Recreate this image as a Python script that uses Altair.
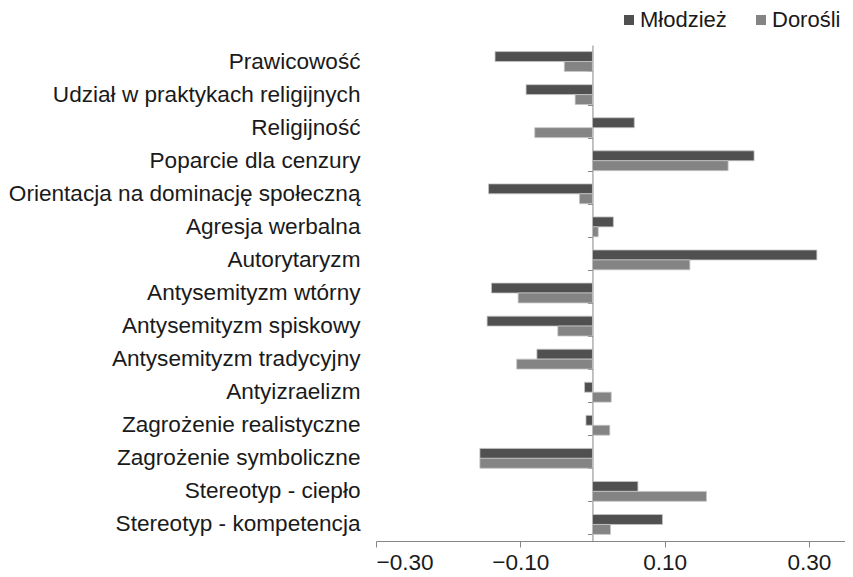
import altair as alt
import pandas as pd

categories = [
    "Prawicowość",
    "Udział w praktykach religijnych",
    "Religijność",
    "Poparcie dla cenzury",
    "Orientacja na dominację społeczną",
    "Agresja werbalna",
    "Autorytaryzm",
    "Antysemityzm wtórny",
    "Antysemityzm spiskowy",
    "Antysemityzm tradycyjny",
    "Antyizraelizm",
    "Zagrożenie realistyczne",
    "Zagrożenie symboliczne",
    "Stereotyp - ciepło",
    "Stereotyp - kompetencja",
]
series = ["Młodzież", "Dorośli"]
mlodziez = [-0.135, -0.092, 0.058, 0.224, -0.144, 0.029, 0.311, -0.140,
            -0.146, -0.077, -0.011, -0.009, -0.156, 0.063, 0.097]
dorosli = [-0.039, -0.024, -0.080, 0.188, -0.018, 0.008, 0.135, -0.103,
           -0.048, -0.105, 0.026, 0.024, -0.156, 0.158, 0.025]
x_ticks = [-0.30, -0.10, 0.10, 0.30]

rows = []
for c, a, b in zip(categories, mlodziez, dorosli):
    rows.append({"cat": c, "series": series[0], "value": a})
    rows.append({"cat": c, "series": series[1], "value": b})
df = pd.DataFrame(rows)
cat_df = pd.DataFrame({"cat": categories, "zero": [0.0] * len(categories)})

FONT = "Liberation Sans"
FS = 22.6
AXIS_GRAY = "#868686"
W = 469
X_DOMAIN = [-0.30, 0.35]

xscale = alt.Scale(domain=X_DOMAIN, nice=False, zero=False)
yscale = alt.Scale(paddingInner=0.4, paddingOuter=0.2)

bars = alt.Chart(df).mark_bar(stroke="#c4c4c4", strokeWidth=0.8).encode(
    x=alt.X("value:Q", scale=xscale,
            axis=alt.Axis(values=x_ticks, format=".2f", title=None, grid=False,
                          domainColor=AXIS_GRAY, tickColor=AXIS_GRAY, tickSize=6,
                          labelFontSize=FS, labelFont=FONT, labelColor="#1a1a1a",
                          labelPadding=4)),
    y=alt.Y("cat:N", sort=categories, scale=yscale,
            axis=alt.Axis(title=None, domain=False, ticks=False, labelFontSize=FS,
                          labelFont=FONT, labelColor="#1a1a1a", labelPadding=16,
                          labelLimit=400)),
    yOffset=alt.YOffset("series:N", sort=series),
    color=alt.Color("series:N", sort=series,
                    scale=alt.Scale(domain=series, range=["#505050", "#848484"]),
                    legend=alt.Legend(title=None, orient="none", direction="horizontal",
                                      legendX=242, legendY=-36, symbolType="square",
                                      symbolSize=100, symbolStrokeWidth=0,
                                      labelFontSize=22, labelFont=FONT,
                                      labelColor="#1a1a1a", labelOffset=0,
                                      columnPadding=23)),
)

# zero line drawn as the domain of a second category axis shifted onto x = 0
zero_offset = -W * (0 - X_DOMAIN[0]) / (X_DOMAIN[1] - X_DOMAIN[0])
zero_axis = alt.Chart(cat_df).mark_point(opacity=0).encode(
    x=alt.X("zero:Q", scale=xscale),
    y=alt.Y("cat:N", sort=categories, scale=yscale,
            axis=alt.Axis(orient="left", title=None, labels=False, domain=True,
                          ticks=True, tickBand="extent", tickSize=5,
                          offset=zero_offset, domainColor=AXIS_GRAY,
                          tickColor=AXIS_GRAY, domainWidth=1, tickWidth=1)),
)

chart = alt.layer(bars, zero_axis).resolve_axis(y="independent").properties(
    width=W,
    height=496,
    background="white",
    autosize=alt.AutoSizeParams(type="none"),
    padding={"left": 368, "top": 37, "right": 0, "bottom": 34},
).configure_view(stroke=None)

chart.save("out.html", embed_options={"renderer": "svg", "actions": False})
